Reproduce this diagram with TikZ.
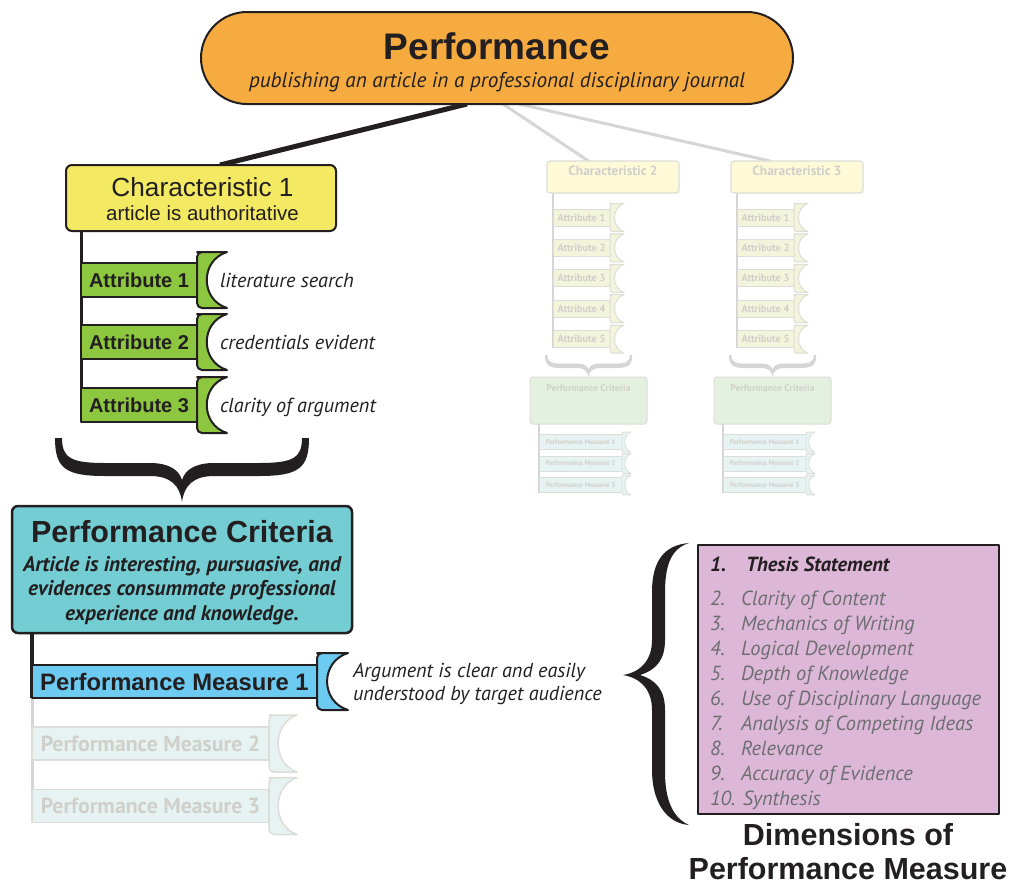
\documentclass[tikz,border=0pt]{standalone}
\usepackage{fontspec}
\setmainfont{Liberation Sans}
\newfontfamily\hum{PT Sans}
\usetikzlibrary{calc}
\pgfdeclarelayer{bg}
\pgfsetlayers{bg,main}

\definecolor{ink}{HTML}{231F20}
\definecolor{perforange}{HTML}{F5AB40}
\definecolor{charyellow}{HTML}{F4E962}
\definecolor{attrgreen}{HTML}{8DC63F}
\definecolor{critteal}{HTML}{73CDD3}
\definecolor{measblue}{HTML}{6DCAF0}
\definecolor{dimlilac}{HTML}{DDB7D7}
\definecolor{listgray}{HTML}{6D6E71}
\definecolor{fadeline}{HTML}{D5D5D5}
\definecolor{fadetext}{HTML}{D0D0CB}
\definecolor{fadeyellow}{HTML}{FEF9D6}
\definecolor{fadegreen}{HTML}{F2F5DC}
\definecolor{fadecritfill}{HTML}{E4F1E0}
\definecolor{fademeasfill}{HTML}{E7F3F3}
\definecolor{fadeedge}{HTML}{DCDDD8}

% crescent-shaped tab: left x, middle y, width, height, corner radius, style
\newcommand{\ctab}[6]{%
  \path[#6] ({#1+#5},{#2-#4/2}) -- ({#1+#3},{#2-#4/2})
    .. controls ({#1+0.1*#3},{#2-0.35*#4}) and ({#1+0.1*#3},{#2+0.35*#4}) .. ({#1+#3},{#2+#4/2})
    -- ({#1+#5},{#2+#4/2}) [rounded corners=#5] -- (#1,{#2+#4/2}) -- (#1,{#2-#4/2}) -- cycle;}

% horizontal curly brace, 254 wide and 64 high, origin at its upper left end
\newcommand{\bracepath}[1][]{%
  \path[#1] (0,0) .. controls (0,30) and (10,38) .. (50,38) -- (95,38)
    .. controls (116,38) and (125,48) .. (127,64)
    .. controls (129,48) and (138,38) .. (159,38) -- (204,38)
    .. controls (244,38) and (254,30) .. (254,0) -- (247,0)
    .. controls (247,20) and (238,25) .. (204,25) -- (159,25)
    .. controls (140,25) and (130,32) .. (127,42)
    .. controls (124,32) and (114,25) .. (95,25) -- (50,25)
    .. controls (16,25) and (7,20) .. (7,0) -- cycle;}

% pale column for a further characteristic
\newcommand{\fadedcolumn}[2]{%
\begin{scope}[shift={(#1,0)}]
  \node[fadechar] (c#2) at (797,177) {};
  \node[fadecharlabel] (c#2t) at (797,171) {Characteristic #2};
  \foreach \i in {1,...,5} {
    \pgfmathsetmacro\yy{217.5+30.4*(\i-1)}
    \node[fadeattr] (c#2a\i) at (737,\yy) {Attribute \i};
    \ctab{794}{\yy}{14}{28}{2.5}{fadetab}
  }
  \begin{scope}[shift={(729,355)},scale=0.343]
    \bracepath[fill=fadeline]
  \end{scope}
  \node[fadecrit] (pc#2) at (772.5,400.5) {};
  \node[fadecritlabel] (pc#2t) at (772.5,388) {Performance Criteria};
  \foreach \i/\yy in {1/442,2/463.5,3/485} {
    \node[fademeas] (pc#2m\i) at (723,\yy) {Performance Measure \i};
    \ctab{806}{\yy}{9}{20}{2}{fademeastab}
  }
  \begin{pgfonlayer}{bg}
    \draw[fadeline, line width=2] (c#2.south -| c#2a1.west) -- (c#2a5.south west);
    \draw[fadeline, line width=1.5] (pc#2.south -| pc#2m1.west) -- (pc#2m3.south west);
  \end{pgfonlayer}
\end{scope}}

\begin{document}
\begin{tikzpicture}[x=1pt, y=-1pt, line join=round,
  every node/.style={inner sep=0pt, outer sep=0pt},
  boxbase/.style={draw=ink, line width=2},
  perfbox/.style={boxbase, fill=perforange, rounded corners=46, minimum width=592, minimum height=92},
  charbox/.style={boxbase, fill=charyellow, rounded corners=6, minimum width=270, minimum height=66},
  attrbar/.style={boxbase, fill=attrgreen, minimum width=116, minimum height=34, anchor=west,
    font=\fontsize{20}{20}\selectfont\bfseries, text=ink},
  greentab/.style={draw=ink, line width=2, fill=attrgreen},
  critbox/.style={boxbase, line width=2.5, fill=critteal, rounded corners=6, minimum width=340, minimum height=127},
  measbar/.style={boxbase, fill=measblue, minimum width=285, minimum height=33, anchor=west,
    font=\fontsize{23.8}{24}\selectfont\bfseries, text=ink},
  bluetab/.style={draw=ink, line width=2, fill=measblue},
  palemeas/.style={draw=fadeedge, line width=1.5, fill=fademeasfill, minimum width=237, minimum height=33, anchor=west,
    font=\hum\bfseries\fontsize{21.8}{22}\selectfont, text=fadetext},
  palemeastab/.style={draw=fadeedge, line width=1.5, fill=fademeasfill},
  note/.style={anchor=base west, font=\hum\itshape\fontsize{20.2}{23}\selectfont, text=ink},
  listitem/.style={anchor=base west, font=\hum\itshape\fontsize{20.4}{20}\selectfont, text=listgray},
  listhead/.style={listitem, text=ink, font=\hum\bfseries\itshape\fontsize{20.4}{20}\selectfont},
  fadechar/.style={draw=fadeedge, line width=1.2, fill=fadeyellow, rounded corners=3, minimum width=132, minimum height=32},
  fadecharlabel/.style={font=\hum\bfseries\fontsize{13.4}{14}\selectfont, text=fadetext},
  fadeattr/.style={draw=fadeedge, line width=1, fill=fadegreen, minimum width=57, minimum height=17, anchor=west,
    font=\hum\bfseries\fontsize{10.3}{11}\selectfont, text=fadetext},
  fadetab/.style={draw=fadeedge, line width=1, fill=fadegreen},
  fadecrit/.style={draw=fadeedge, line width=1, fill=fadecritfill, rounded corners=3, minimum width=117, minimum height=47},
  fadecritlabel/.style={font=\hum\bfseries\fontsize{9.6}{10}\selectfont, text=fadetext},
  fademeas/.style={draw=fadeedge, line width=0.8, fill=fademeasfill, minimum width=83, minimum height=15, anchor=west,
    font=\hum\bfseries\fontsize{6.9}{7}\selectfont, text=fadetext},
  fademeastab/.style={draw=fadeedge, line width=0.8, fill=fademeasfill}
]
\useasboundingbox (0,0) rectangle (1012,884);

% top goal
\node[perfbox] (perf) at (497,58) {};
\node[anchor=base, font=\fontsize{37}{37}\selectfont\bfseries, text=ink] (perft) at (497,59) {Performance};
\node[anchor=base, font=\hum\itshape\fontsize{21.2}{22}\selectfont, text=ink] (perfs) at (497,87)
  {publishing an article in a professional disciplinary journal};

% characteristic 1 with its attributes
\node[charbox] (c1) at (201,198) {};
\node[anchor=base, font=\fontsize{26.2}{27}\selectfont, text=ink] (c1t) at (202.5,196) {Characteristic 1};
\node[anchor=base, font=\fontsize{20.5}{21}\selectfont, text=ink] (c1s) at (202.5,220) {article is authoritative};

\node[attrbar] (a1) at (81,280) {Attribute 1};
\node[attrbar] (a2) at (81,342) {Attribute 2};
\node[attrbar] (a3) at (81,405) {Attribute 3};
\ctab{197}{280}{30}{56}{5}{greentab}
\ctab{197}{342}{30}{56}{5}{greentab}
\ctab{197}{405}{30}{56}{5}{greentab}
\node[note] (a1n) at (220,287) {literature search};
\node[note] (a2n) at (220,349) {credentials evident};
\node[note] (a3n) at (220,412) {clarity of argument};

% brace gathering the attributes
\begin{scope}[shift={(55,438)}]
  \bracepath[fill=ink]
\end{scope}

% performance criteria
\node[critbox] (pc) at (182,569.5) {};
\node[font=\fontsize{30.5}{31}\selectfont\bfseries, text=ink] (pct) at (182,532) {Performance Criteria};
\node[anchor=base, align=center, font=\hum\bfseries\itshape\fontsize{21.2}{24.5}\selectfont, text=ink] (pcs) at (182,620)
  {Article is interesting, pursuasive, and\\evidences consummate professional\\experience and knowledge.};

% performance measures
\node[measbar] (m1) at (32,681.5) {Performance Measure 1};
\ctab{317}{681.5}{31}{57}{5}{bluetab}
\node[palemeas] (m2) at (32,743.5) {Performance Measure 2};
\ctab{269}{743.5}{28}{57}{5}{palemeastab}
\node[palemeas] (m3) at (32,806) {Performance Measure 3};
\ctab{269}{806}{28}{57}{5}{palemeastab}
\node[note] (m1n) at (353,677) {Argument is clear and easily};
\node[note] (m1n2) at (353,700) {understood by target audience};

% pale columns for characteristics 2 and 3
\fadedcolumn{-184}{2}
\fadedcolumn{0}{3}

% dimensions of performance measure
\path[fill=ink] (689,543) .. controls (665,545) and (652,560) .. (652,592) -- (652,640)
  .. controls (652,660) and (641,672) .. (623,675)
  .. controls (641,678) and (652,690) .. (652,710) -- (652,770)
  .. controls (652,800) and (665,823) .. (689,825)
  .. controls (673,818) and (665,800) .. (665,772) -- (665,710)
  .. controls (665,690) and (656,680) .. (640,675)
  .. controls (656,670) and (665,660) .. (665,640) -- (665,592)
  .. controls (665,562) and (673,548) .. (689,543) -- cycle;

\node[boxbase, line width=2.5, fill=dimlilac, minimum width=301, minimum height=269] (dim) at (848.5,679.5) {};
\node[listhead] (d1n) at (710,571) {1.};
\node[listhead] (d1) at (746,571) {Thesis Statement};
\foreach \n/\t [count=\k] in {2/Clarity of Content, 3/Mechanics of Writing, 4/Logical Development,
  5/Depth of Knowledge, 6/Use of Disciplinary Language, 7/Analysis of Competing Ideas,
  8/Relevance, 9/Accuracy of Evidence} {
  \node[listitem] (d\n n) at (710,{605+25*(\k-1)}) {\n.};
  \node[listitem] (d\n) at (741,{605+25*(\k-1)}) {\t};
}
\node[listitem] (d10) at (710,805) {10. Synthesis};
\node[anchor=base, align=center, font=\fontsize{30.5}{34}\selectfont\bfseries, text=ink] (dimt) at (848,879)
  {Dimensions of\\Performance Measure};

% connectors
\begin{pgfonlayer}{bg}
  \draw[ink, line width=5] ($(perf.south)+(-30,0)$) -- ($(c1.north)+(19,0)$);
  \draw[fadeline, line width=3] ($(perf.south)+(6,0)$) -- ($(c2.north)+(-24.5,0)$);
  \draw[fadeline, line width=3] ($(perf.south)+(22,0)$) -- ($(c3.north)+(-27,0)$);
  \draw[ink, line width=3] (c1.south -| a1.west) -- (a3.south west);
  \draw[ink, line width=3.5] (pc.south -| m1.west) -- (m1.south west);
  \draw[fadeline, line width=3] (m1.south west) -- (m3.south west);
\end{pgfonlayer}
\end{tikzpicture}
\end{document}
